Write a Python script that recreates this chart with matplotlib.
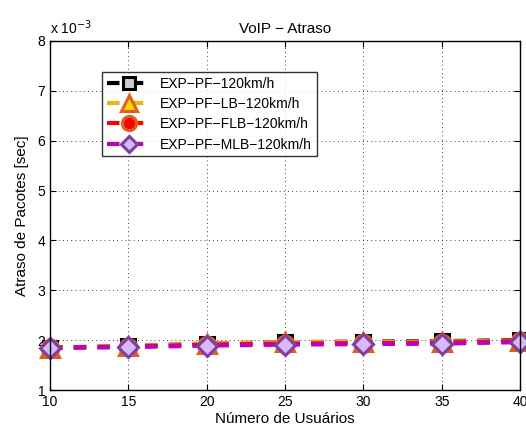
import matplotlib
matplotlib.use("Agg")
import matplotlib.pyplot as plt

plt.rcParams['font.family'] = ['Liberation Sans', 'DejaVu Sans']

usuarios = [10, 15, 20, 25, 30, 35, 40]
# atraso em unidades de 1e-3 s
atraso_pf = [1.85, 1.88, 1.93, 1.96, 1.97, 1.98, 2.00]
atraso_lb = [1.85, 1.88, 1.93, 1.96, 1.96, 1.97, 1.99]
atraso_flb = [1.85, 1.87, 1.91, 1.93, 1.94, 1.95, 1.98]
atraso_mlb = [1.84, 1.86, 1.89, 1.91, 1.92, 1.93, 1.96]

nomes = ['EXP\u2212PF\u2212120km/h', 'EXP\u2212PF\u2212LB\u2212120km/h',
         'EXP\u2212PF\u2212FLB\u2212120km/h', 'EXP\u2212PF\u2212MLB\u2212120km/h']

fig = plt.figure(figsize=(5.26, 4.29), dpi=100)
ax = fig.add_axes([50/526, 1 - 390/429, 470/526, 349/429])

estilos = [
    dict(color='black', marker='s', mfc='#cccccc', mec='black', ms=10, mew=2.2),
    dict(color='#f0b020', marker='^', mfc='#ffd700', mec='#e06020', ms=13, mew=2.2),
    dict(color='red', marker='o', mfc='red', mec='#e06020', ms=12, mew=2.2),
    dict(color='#c000c0', marker='D', mfc='#d8b8f8', mec='#7f3f9f', ms=10, mew=2.2),
]
series = [atraso_pf, atraso_lb, atraso_flb, atraso_mlb]
for y, nome, st in zip(series, nomes, estilos):
    ax.plot(usuarios, y, linestyle=(0, (3, 2.7)), lw=3, label=nome,
            clip_on=False, **st)

ax.set_xlim(10, 40)
ax.set_ylim(1, 8)
ax.set_xticks(usuarios)
ax.set_yticks(range(1, 9))
ax.tick_params(direction='in', labelsize=10, length=4, top=True, right=True)
ax.grid(True, linestyle=(0, (1, 4)), color='black', lw=0.6)
for s in ax.spines.values():
    s.set_linewidth(1.0)

ax.set_title('VoIP \u2212 Atraso', fontsize=11, pad=6)
ax.set_xlabel('N\u00famero de Usu\u00e1rios', fontsize=11, labelpad=2)
ax.set_ylabel('Atraso de Pacotes [sec]', fontsize=11, labelpad=6)
ax.text(0, 1.012, r'x 10$^{-3}$', transform=ax.transAxes, fontsize=10,
        ha='left', va='bottom')

leg = ax.legend(loc='upper left', bbox_to_anchor=(52/470, 1 - 31/349),
                fontsize=10, frameon=True, fancybox=False, edgecolor='black',
                handlelength=3.15, borderpad=0.35, labelspacing=0.45,
                handletextpad=0.7, borderaxespad=0, markerscale=0.85)
leg.get_frame().set_linewidth(1.0)

fig.savefig('out.png', dpi=100)
